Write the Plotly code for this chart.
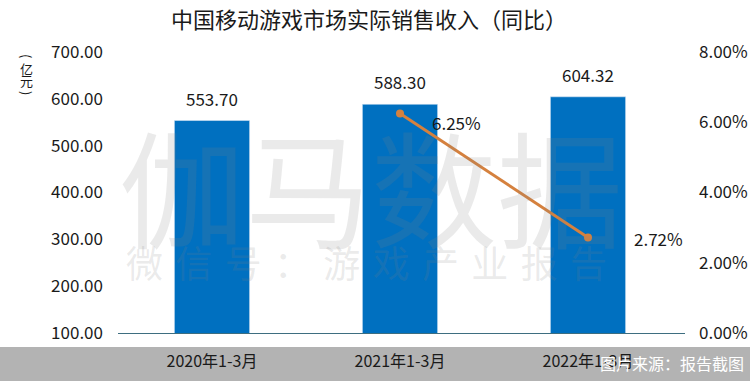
import plotly.graph_objects as go

categories = ["2020年1-3月", "2021年1-3月", "2022年1-3月"]
revenue = [553.70, 588.30, 604.32]
growth_cats = ["2021年1-3月", "2022年1-3月"]
growth = [6.25, 2.72]
left_ticks = [100, 200, 300, 400, 500, 600, 700]
right_ticks = [0, 2, 4, 6, 8]
watermark_main = "伽马数据"
watermark_sub = "微信号：游戏产业报告"
source_text = "图片来源：报告截图"
unit_chars = ["(", "亿", "元", ")"]

FONT = "Noto Sans CJK SC"
BLUE = "#0070C0"
ORANGE = "#D5813E"
TXT = "#1a1a1a"

L, R, T, B = 118, 65, 52, 48
W, H = 750, 381
PW, PH = W - L - R, H - T - B


def px(x):
    return (x - L) / PW


def py(y):
    return (H - B - y) / PH


fig = go.Figure()
fig.add_trace(go.Bar(
    x=categories, y=revenue, marker_color=BLUE, width=0.4,
    yaxis="y", showlegend=False, hoverinfo="skip",
))
fig.add_trace(go.Scatter(
    x=growth_cats, y=growth, mode="lines+markers",
    line=dict(color=ORANGE, width=3), marker=dict(size=8, color=ORANGE),
    yaxis="y2", showlegend=False, cliponaxis=False,
))

# bar value labels
for c, v in zip(categories, revenue):
    fig.add_annotation(x=c, y=v, xref="x", yref="y", text=f"{v:.2f}", showarrow=False,
                       yanchor="bottom", yshift=8,
                       font=dict(family=FONT, size=17, color=TXT))
# line value labels
shifts = [(30, -9), (44, -1)]
for c, v, (xs, ys) in zip(growth_cats, growth, shifts):
    fig.add_annotation(x=c, y=v, xref="x", yref="y2", text=f"{v:.2f}%", showarrow=False,
                       xanchor="left", yanchor="middle", xshift=xs, yshift=ys,
                       font=dict(family=FONT, size=17, color=TXT))

# bottom grey band
fig.add_shape(type="rect", xref="paper", yref="paper", x0=px(-5), x1=px(W + 5),
              y0=py(H + 5), y1=py(347), fillcolor="#B3B3B3", line_width=0, layer="below")

# watermarks
wm_col = "rgba(128,128,128,0.17)"
fig.add_annotation(text=watermark_main, xref="paper", yref="paper", x=px(371), y=py(184),
                   xanchor="center", yanchor="middle",
                   showarrow=False, font=dict(family=FONT, size=126, color=wm_col))
fig.add_annotation(text="\u2004".join(watermark_sub), xref="paper", yref="paper",
                   x=px(366), y=py(262), xanchor="center", yanchor="middle", showarrow=False,
                   font=dict(family=FONT, size=37, color=wm_col))

fig.add_annotation(text=source_text, xref="paper", yref="paper", x=px(746), y=py(363),
                   xanchor="right", yanchor="middle", showarrow=False,
                   font=dict(family=FONT, size=16, color="white"))
for i, ch in enumerate(unit_chars):
    ang = 90 if ch in "()" else 0
    fig.add_annotation(text=ch, xref="paper", yref="paper", x=px(26), y=py(56 + i * 12.3),
                       xanchor="center", yanchor="middle",
                       textangle=ang, showarrow=False,
                       font=dict(family=FONT, size=13, color=TXT))

fig.update_layout(
    width=W, height=H,
    margin=dict(l=L, r=R, t=T, b=B, autoexpand=False),
    paper_bgcolor="white", plot_bgcolor="white",
    title=dict(text="中国移动游戏市场实际销售收入（同比）", x=369 / W, xanchor="center",
               y=1 - 20 / H, yanchor="middle", xref="container", yref="container",
               font=dict(family=FONT, size=22, color=TXT)),
    xaxis=dict(showline=True, linecolor="#3E6E80", linewidth=1, ticks="",
               tickfont=dict(family=FONT, size=16, color=TXT), ticklabelstandoff=14,
               showgrid=False, automargin=False, fixedrange=True),
    yaxis=dict(range=[100, 700], tickvals=left_ticks,
               ticktext=[f"{v:.2f}" for v in left_ticks],
               showgrid=False, zeroline=False, automargin=False,
               tickfont=dict(family=FONT, size=17, color=TXT), ticklabelstandoff=14),
    yaxis2=dict(range=[0, 8], tickvals=right_ticks, overlaying="y", side="right",
                ticktext=[f"{v:.2f}%" for v in right_ticks],
                showgrid=False, zeroline=False, automargin=False,
                tickfont=dict(family=FONT, size=17, color=TXT), ticklabelstandoff=13),
    bargap=0.6,
)

fig.write_html("out.html", config={"displayModeBar": False},
               post_script="document.body.style.margin='0';document.body.style.overflow='hidden';")
